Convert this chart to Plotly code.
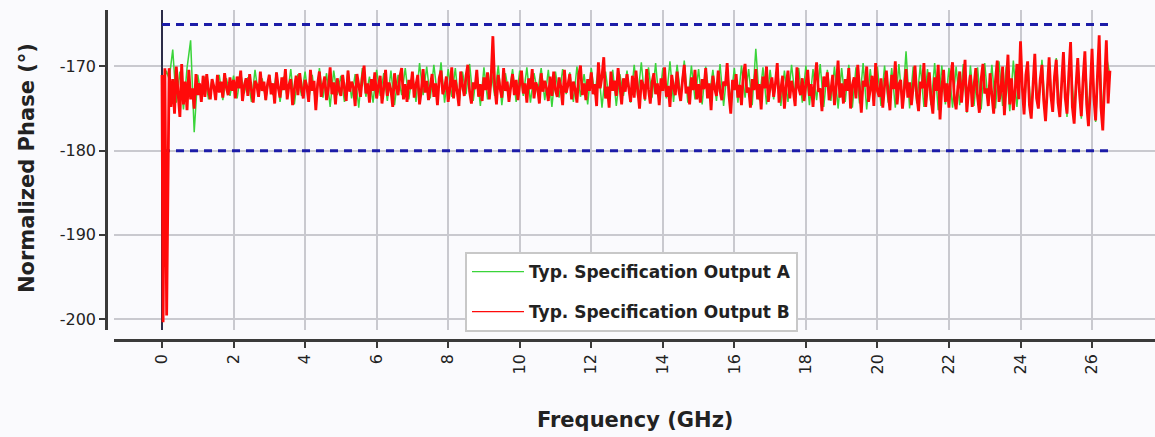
import plotly.graph_objects as go

# ---------------- data ----------------
# Output A sampled every 0.1 GHz, Output B every 0.05 GHz (both from 0.2 GHz to 26.5 GHz)
freq_a = [round(0.2 + 0.1 * i, 2) for i in range(264)]
freq_b = [round(0.2 + 0.05 * i, 2) for i in range(527)]

# leading points near 0 GHz
head_freq_a = [0.05, 0.12]
head_phase_a = [-172.0, -170.5]
head_freq_b = [0.0, 0.03, 0.08, 0.13]
head_phase_b = [-171.0, -200.4, -170.2, -199.6]

phase_a = [
    # 0.2 - 1.0 GHz
    -171.5, -168.0, -174.3, -170.6, -175.1, -170.2, -166.9, -177.8, -171.0,
    -173.6, -171.2, -173.9, -171.5, -173.2, -171.0, -174.0, -171.4, -173.5, -171.1,
    -173.8, -170.8, -173.2, -171.3, -174.2, -170.4, -173.5, -171.4, -174.0, -171.0,
    -173.4, -170.7, -174.2, -171.2, -173.6, -170.3, -174.5, -170.9, -173.5, -170.6,
    -174.0, -171.0, -174.6, -170.2, -173.7, -170.8, -174.8, -170.5, -173.4, -171.1,
    -174.2, -170.5, -173.8, -170.9, -174.9, -170.2, -173.6, -171.2, -174.3, -170.4,
    -173.5, -170.8, -174.1, -170.5, -174.6, -171.0, -173.4, -170.2, -173.9, -170.7,
    -174.2, -169.6, -173.4, -170.0, -173.8, -169.8, -173.5, -169.5, -174.3, -170.3,
    -173.6, -170.2, -174.5, -170.6, -173.3, -169.7, -174.1, -170.6, -174.7, -170.1,
    -173.9, -170.4, -173.5, -169.9, -174.6, -170.8, -173.3, -170.3, -174.2, -170.5,
    -173.5, -170.1, -174.3, -170.8, -173.1, -170.2, -174.0, -170.4, -174.8, -170.6,
    -173.7, -170.3, -173.3, -170.7, -174.2, -170.0, -173.6, -170.9, -174.5, -170.2,
    -173.4, -170.0, -174.9, -170.6, -173.9, -170.4, -174.7, -170.9, -173.5, -170.5,
    -174.3, -169.8, -173.6, -169.5, -174.1, -170.1, -173.7, -169.6, -174.4, -170.2,
    -173.8, -169.4, -174.2, -169.8, -173.5, -169.3, -174.3, -169.9, -173.9, -170.3,
    -174.5, -170.0, -173.6, -170.4, -174.1, -169.7, -174.7, -170.5, -174.0, -170.2,
    -174.3, -169.9, -173.7, -170.3, -174.6, -167.9, -174.0, -170.1, -174.5, -170.4,
    -173.9, -170.0, -174.7, -170.5, -174.2, -169.8, -173.6, -170.2, -174.3, -169.9,
    -174.6, -170.3, -174.0, -169.7, -174.8, -170.4, -174.1, -170.0, -175.0, -170.2,
    -174.2, -169.8, -174.9, -170.1, -174.4, -169.6, -175.1, -170.3, -174.3, -170.0,
    -174.7, -169.9, -174.3, -170.2, -174.9, -169.7, -174.5, -168.2, -175.0, -170.0,
    -174.4, -169.8, -174.8, -170.3, -174.6, -169.6, -175.2, -169.9, -174.5, -170.2,
    -174.9, -170.0, -174.6, -169.7, -175.5, -169.9, -174.7, -170.1, -175.1, -169.6,
    -174.5, -169.8, -175.0, -169.4, -174.7, -170.0, -175.3, -169.3, -174.8, -169.6,
    -175.1, -169.5, -175.5, -169.7, -174.9, -169.2, -175.7, -169.6, -175.2, -169.0,
    -175.6, -169.4, -176.0, -169.1, -175.4, -169.5, -176.2, -168.6, -175.8, -169.2,
    # 26.1 - 26.5 GHz
    -176.6, -168.1, -175.7, -168.8, -171.0,
]

phase_b = [
    # 0.20 - 1.00 GHz
    -170.2, -174.8, -171.5, -175.6, -170.0, -173.2, -176.0, -169.7, -174.5, -171.8,
    -175.2, -170.4, -173.9, -172.6, -175.0, -170.9, -173.4,
    # 1.05 - 2.00
    -172.0, -174.2, -171.1, -173.6, -170.9, -172.8, -173.9, -171.5, -172.4, -174.0,
    -171.0, -173.1, -171.8, -173.7, -170.8, -172.5, -173.4, -171.3, -172.9, -171.6,
    # 2.05 - 3.00
    -173.8, -171.2, -172.6, -170.5, -174.1, -172.3, -171.4, -173.5, -170.9, -172.8,
    -174.3, -171.7, -172.2, -173.6, -170.6, -172.9, -171.8, -174.0, -172.1, -171.0,
    # 3.05 - 4.00
    -173.3, -172.0, -174.4, -170.7, -172.5, -173.7, -171.3, -172.8, -170.3, -173.9,
    -172.2, -171.5, -174.6, -172.7, -171.1, -173.4, -170.8, -172.6, -173.8, -171.6,
    # 4.05 - 5.00
    -172.4, -174.2, -170.4, -172.9, -171.7, -175.2, -172.1, -170.6, -173.6, -172.3,
    -171.2, -174.0, -172.7, -170.1, -173.3, -171.9, -174.5, -171.4, -172.8, -173.5,
    # 5.05 - 6.00
    -171.0, -172.6, -174.1, -170.5, -173.0, -171.8, -172.4, -174.7, -170.9, -172.2,
    -173.6, -171.3, -169.9, -173.2, -172.0, -174.3, -171.5, -172.9, -170.7, -173.8,
    # 6.05 - 7.00
    -172.3, -171.1, -174.4, -172.6, -170.4, -173.5, -171.9, -172.8, -174.8, -170.8,
    -172.5, -173.4, -171.2, -170.2, -173.9, -172.1, -174.2, -171.6, -172.7, -170.6,
    # 7.05 - 8.00
    -173.7, -172.2, -171.0, -174.5, -172.8, -170.3, -173.1, -171.7, -174.0, -172.4,
    -170.9, -173.6, -172.0, -174.6, -171.4, -170.5, -173.3, -172.6, -171.2, -174.2,
    # 8.05 - 9.00
    -172.5, -170.1, -173.8, -171.6, -172.9, -174.7, -170.6, -172.2, -173.5, -171.1,
    -169.8, -173.0, -174.4, -171.9, -172.7, -170.4, -173.6, -172.1, -174.1, -171.3,
    # 9.05 - 10.00
    -172.8, -170.7, -173.9, -171.5, -166.4, -172.3, -174.5, -171.0, -172.6, -173.7,
    -170.2, -172.9, -171.8, -174.2, -172.4, -170.9, -173.4, -171.6, -174.0, -172.1,
    # 10.05 - 11.00
    -170.5, -173.2, -172.0, -174.3, -171.4, -172.7, -170.3, -173.8, -171.9, -172.5,
    -174.4, -170.8, -173.0, -171.7, -172.6, -174.1, -171.2, -173.5, -170.6, -172.8,
    # 11.05 - 12.00
    -173.6, -171.3, -172.4, -174.6, -170.4, -173.1, -172.2, -170.9, -173.9, -171.8,
    -172.7, -174.3, -171.0, -169.9, -173.4, -172.0, -174.0, -171.5, -172.9, -170.7,
    # 12.05 - 13.00
    -173.3, -172.1, -174.7, -169.5, -172.6, -171.2, -168.9, -173.8, -172.4, -174.9,
    -170.6, -172.9, -171.7, -173.5, -170.2, -172.3, -174.5, -171.4, -173.0, -170.9,
    # 13.05 - 14.00
    -172.6, -174.2, -171.1, -173.7, -170.5, -172.8, -175.0, -171.6, -172.2, -173.9,
    -170.3, -172.7, -174.4, -171.9, -170.8, -173.3, -172.0, -174.6, -171.4, -172.9,
    # 14.05 - 15.00
    -170.1, -173.6, -172.3, -174.8, -171.0, -172.5, -173.4, -170.6, -172.9, -174.1,
    -171.7, -169.8, -173.2, -172.4, -174.5, -171.3, -172.8, -170.4, -173.9, -172.1,
    # 15.05 - 16.00
    -174.3, -171.5, -172.7, -170.2, -173.8, -172.0, -175.2, -171.1, -172.6, -173.5,
    -170.5, -172.9, -174.0, -171.8, -172.3, -169.6, -173.4, -175.6, -171.6, -172.8,
    # 16.05 - 17.00
    -170.9, -173.7, -172.2, -174.6, -171.0, -169.7, -173.1, -172.5, -174.9, -171.5,
    -172.8, -170.3, -173.9, -172.1, -175.1, -171.2, -172.6, -170.0, -174.2, -172.4,
    # 17.05 - 18.00
    -171.3, -173.6, -172.0, -169.6, -174.3, -172.7, -171.1, -175.0, -172.3, -170.5,
    -173.8, -171.7, -172.9, -174.7, -170.1, -172.5, -173.4, -171.4, -174.1, -172.2,
    # 18.05 - 19.00
    -170.4, -173.5, -172.1, -174.8, -171.6, -169.5, -173.0, -172.6, -175.3, -171.2,
    -172.4, -170.7, -174.0, -172.8, -171.0, -174.6, -172.3, -169.3, -173.7, -172.0,
    # 19.05 - 20.00
    -174.4, -171.5, -172.9, -170.2, -175.0, -172.2, -171.3, -173.8, -169.8, -172.6,
    -175.5, -171.7, -172.4, -170.0, -174.2, -172.7, -171.1, -174.7, -169.6, -172.9,
    # 20.05 - 21.00
    -173.6, -171.4, -174.9, -172.3, -170.5, -173.1, -175.2, -171.0, -172.7, -169.4,
    -174.5, -172.1, -171.6, -175.0, -172.8, -170.3, -173.7, -171.9, -174.6, -172.4,
    # 21.05 - 22.00
    -169.9, -173.5, -175.3, -171.8, -172.6, -169.6, -174.8, -172.2, -170.7, -173.9,
    -175.6, -171.3, -172.9, -169.8, -176.3, -172.5, -170.4, -174.2, -172.0, -174.9,
    # 22.05 - 23.00
    -171.2, -169.5, -173.8, -175.1, -172.4, -170.6, -174.3, -171.9, -169.2, -175.4,
    -172.7, -171.0, -174.8, -172.3, -170.2, -173.6, -175.5, -171.5, -169.7, -173.2,
    # 23.05 - 24.00
    -172.6, -174.7, -170.8, -173.4, -175.6, -171.7, -169.3, -174.2, -172.9, -170.0,
    -175.8, -172.1, -168.6, -174.5, -171.4, -175.2, -172.8, -169.7, -173.9, -167.0,
    # 24.05 - 25.00
    -172.5, -175.7, -171.0, -169.4, -174.6, -176.2, -172.3, -168.5, -173.8, -175.0,
    -171.6, -169.8, -174.1, -176.5, -172.7, -168.9, -173.5, -175.4, -171.2, -169.2,
    # 25.05 - 26.00
    -174.3, -176.0, -172.0, -168.3, -173.7, -175.6, -170.9, -167.1, -174.8, -176.8,
    -172.4, -169.0, -173.2, -175.9, -171.5, -168.2, -174.5, -177.1, -172.9, -167.9,
    # 26.05 - 26.50
    -173.6, -176.4, -171.2, -166.3, -174.9, -177.6, -172.1, -166.9, -174.4, -170.5,
]

limit_freq = [0.0, 26.5]
upper_limit = -165.0
lower_limit = -180.0

series_names = ["Typ. Specification Output A", "Typ. Specification Output B"]
series_colors = ["#3ad43a", "#ff0a0a"]
x_ticks = list(range(0, 27, 2))
y_ticks = [-170, -180, -190, -200]
y_tick_text = ["-170", "-180", "-190", "-200"]

# ---------------- figure ----------------
FONT = "DejaVu Sans"
W, H = 1155, 437
ML, MR, MT, MB = 106, 0, 10, 97
PW, PH = W - ML - MR, H - MT - MB

fig = go.Figure()

fig.add_trace(go.Scatter(
    x=[limit_freq[0], limit_freq[1], None, limit_freq[0], limit_freq[1]],
    y=[upper_limit, upper_limit, None, lower_limit, lower_limit],
    mode="lines", line=dict(color="#1c1ca8", width=3, dash="8px,6px"),
    showlegend=False, hoverinfo="skip",
))

fig.add_trace(go.Scatter(
    x=head_freq_a + freq_a, y=head_phase_a + phase_a, mode="lines",
    name=series_names[0], showlegend=False,
    line=dict(color=series_colors[0], width=1.5, simplify=False),
))
fig.add_trace(go.Scatter(
    x=head_freq_b + freq_b, y=head_phase_b + phase_b, mode="lines",
    name=series_names[1], showlegend=False,
    line=dict(color=series_colors[1], width=2.8, simplify=False),
))

# legend entries (thin sample lines as in the reference)
for i, (nm, col) in enumerate(zip(series_names, series_colors)):
    fig.add_trace(go.Scatter(
        x=[None], y=[None], mode="lines", name=nm, legendgroup=f"g{i}",
        line=dict(color=col, width=1.2),
    ))

axis_common = dict(
    showline=True, linecolor="#3a3a3a", linewidth=2.5,
    ticks="outside", ticklen=6, tickwidth=2, tickcolor="#3a3a3a",
    showgrid=True, gridcolor="#c9c9cf", gridwidth=1.5,
    tickfont=dict(family=FONT, size=16, color="#222222"),
)

fig.update_layout(
    width=W, height=H,
    margin=dict(l=ML, r=MR, t=MT, b=MB),
    paper_bgcolor="#fafafd", plot_bgcolor="#fafafd",
    xaxis=dict(
        axis_common, domain=[(114 - ML) / PW, 1], anchor="free", position=0,
        range=[-1.342, 27.76], tickvals=x_ticks, tickangle=-90,
        zeroline=True, zerolinecolor="#2c2c48", zerolinewidth=2,
    ),
    yaxis=dict(
        axis_common, domain=[(340 - 330) / PH, 1], anchor="free", position=0,
        range=[-201.31, -163.29], tickvals=y_ticks, ticktext=y_tick_text,
        zeroline=False,
    ),
    legend=dict(
        x=(465 - ML) / PW, y=(340 - 252) / PH, xanchor="left", yanchor="top",
        bgcolor="#ffffff", bordercolor="#c8c8c8", borderwidth=2,
        font=dict(family=FONT, size=17, color="#222222", weight="bold"),
        tracegroupgap=15, itemwidth=52,
    ),
    annotations=[
        dict(text="<b>Frequency (GHz)</b>", xref="paper", yref="paper",
             x=((114 + 1155) / 2 - ML) / PW, y=(340 - 420) / PH,
             xanchor="center", yanchor="middle", showarrow=False,
             font=dict(family=FONT, size=21, color="#222222")),
        dict(text="<b>Normalized Phase (°)</b>", xref="paper", yref="paper",
             x=(27 - ML) / PW, y=(340 - 168) / PH, textangle=-90,
             xanchor="center", yanchor="middle", showarrow=False,
             font=dict(family=FONT, size=21, color="#222222")),
    ],
)

fig.write_html("out.html", config={"displayModeBar": False},
               post_script="document.body.style.margin='0';")
